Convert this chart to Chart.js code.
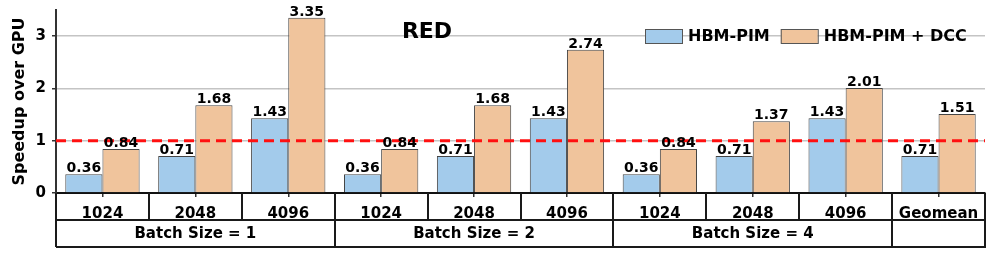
<!DOCTYPE html>
<html>
<head>
<meta charset="utf-8">
<script src="https://cdn.jsdelivr.net/npm/chart.js@4.4.1/dist/chart.umd.min.js"></script>
<style>
  html, body { margin: 0; padding: 0; background: #fff; }
  #wrap { width: 996px; height: 254px; }
</style>
</head>
<body>
<div id="wrap"><canvas id="speedup"></canvas></div>
<script>
const categories = ["1024", "2048", "4096", "1024", "2048", "4096", "1024", "2048", "4096", "Geomean"];
const groups = ["Batch Size = 1", "Batch Size = 2", "Batch Size = 4", ""];
const groupSpan = [3, 3, 3, 1];
const hbmPim = [0.36, 0.71, 1.43, 0.36, 0.71, 1.43, 0.36, 0.71, 1.43, 0.71];
const hbmPimDcc = [0.84, 1.68, 3.35, 0.84, 1.68, 2.74, 0.84, 1.37, 2.01, 1.51];
const seriesNames = ["HBM-PIM", "HBM-PIM + DCC"];
const yTicks = [0, 1, 2, 3];
const yMax = 3.5;
const baseline = 1;
const chartTitle = "RED";

const BLUE = "#a3cbeb";
const ORANGE = "#f0c49c";
const FONT = "'DejaVu Sans', sans-serif";

// red dashed line at speedup = 1, drawn over the bars
const baselinePlugin = {
  id: "baseline",
  afterDatasetsDraw(chart) {
    const { ctx, chartArea } = chart;
    const y = chart.scales.y.getPixelForValue(baseline);
    ctx.save();
    ctx.strokeStyle = "#ff1010";
    ctx.lineWidth = 3;
    ctx.setLineDash([10, 6]);
    ctx.beginPath();
    ctx.moveTo(chartArea.left, y);
    ctx.lineTo(chartArea.right, y);
    ctx.stroke();
    ctx.restore();
  }
};

// value labels on top of each bar
const valueLabels = {
  id: "valueLabels",
  afterDatasetsDraw(chart) {
    const { ctx } = chart;
    ctx.save();
    ctx.font = "bold 14px " + FONT;
    ctx.fillStyle = "#000";
    ctx.textAlign = "center";
    ctx.textBaseline = "alphabetic";
    chart.data.datasets.forEach((ds, i) => {
      chart.getDatasetMeta(i).data.forEach((bar, j) => {
        ctx.fillText(ds.data[j].toFixed(2), bar.x, bar.y - 2);
      });
    });
    ctx.restore();
  }
};

// table under the x axis: sizes in row 1, batch groups in row 2
const tableAxis = {
  id: "tableAxis",
  afterDraw(chart) {
    const { ctx, chartArea } = chart;
    const x = chart.scales.x;
    const n = categories.length;
    const cw = (chartArea.right - chartArea.left) / n;
    const y0 = chartArea.bottom, y1 = y0 + 27, y2 = y1 + 27;
    ctx.save();
    ctx.strokeStyle = "#1a1a1a";
    ctx.lineWidth = 2;
    ctx.beginPath();
    ctx.moveTo(chartArea.left, y1); ctx.lineTo(chartArea.right, y1);
    ctx.moveTo(chartArea.left, y2); ctx.lineTo(chartArea.right + 1, y2);
    ctx.moveTo(chartArea.left, y0); ctx.lineTo(chartArea.left, y2);
    ctx.moveTo(chartArea.right, y0); ctx.lineTo(chartArea.right, y2);
    for (let i = 1; i < n; i++) {
      const bx = Math.round(chartArea.left + i * cw);
      ctx.moveTo(bx, y0); ctx.lineTo(bx, y1);
    }
    let k = 0;
    groupSpan.forEach((s) => {
      k += s;
      if (k < n) {
        const bx = Math.round(chartArea.left + k * cw);
        ctx.moveTo(bx, y1); ctx.lineTo(bx, y2);
      }
    });
    ctx.stroke();

    ctx.fillStyle = "#000";
    ctx.textAlign = "center";
    ctx.textBaseline = "alphabetic";
    ctx.font = "bold 15px " + FONT;
    categories.forEach((c, i) => {
      ctx.fillText(c, x.getPixelForValue(i), y1 - 2);
    });
    k = 0;
    groups.forEach((g, i) => {
      const cx = chartArea.left + (k + groupSpan[i] / 2) * cw;
      k += groupSpan[i];
      if (g) ctx.fillText(g, cx, y2 - 9);
    });
    ctx.restore();
  }
};

// chart title and legend drawn inside the plot
const titleLegend = {
  id: "titleLegend",
  afterDraw(chart) {
    const { ctx } = chart;
    ctx.save();
    ctx.fillStyle = "#000";
    ctx.textBaseline = "middle";
    ctx.textAlign = "center";
    ctx.font = "bold 22px " + FONT;
    ctx.fillText(chartTitle, 427, 32);

    ctx.font = "bold 16px " + FONT;
    ctx.textAlign = "left";
    let lx = 645;
    const colors = [BLUE, ORANGE];
    seriesNames.forEach((name, i) => {
      ctx.fillStyle = colors[i];
      ctx.fillRect(lx, 29, 37, 14);
      ctx.strokeStyle = "#555";
      ctx.lineWidth = 1;
      ctx.strokeRect(lx + 0.5, 29.5, 37, 14);
      ctx.fillStyle = "#000";
      ctx.fillText(name, lx + 43, 37);
      lx += 43 + ctx.measureText(name).width + 11;
    });
    ctx.restore();
  }
};

new Chart(document.getElementById("speedup"), {
  type: "bar",
  data: {
    labels: categories,
    datasets: [
      { label: seriesNames[0], data: hbmPim, backgroundColor: BLUE, borderColor: "#444", borderWidth: 1 },
      { label: seriesNames[1], data: hbmPimDcc, backgroundColor: ORANGE, borderColor: "#444", borderWidth: 1 }
    ]
  },
  options: {
    responsive: true,
    maintainAspectRatio: false,
    animation: false,
    layout: { padding: { top: 10, right: 11, bottom: 7, left: 0 } },
    datasets: { bar: { categoryPercentage: 0.8, barPercentage: 1.0 } },
    plugins: { legend: { display: false }, title: { display: false }, tooltip: { enabled: false } },
    scales: {
      x: {
        ticks: { display: false },
        grid: { display: true, drawOnChartArea: false, offset: false, tickLength: 4, color: "#333", lineWidth: 1.5 },
        border: { display: true, color: "#111", width: 2 },
        afterFit: s => { s.height = 54; s.paddingLeft = 0; s.paddingRight = 0; }
      },
      y: {
        min: 0,
        max: yMax,
        afterBuildTicks: s => { s.ticks = yTicks.map(v => ({ value: v })); },
        afterFit: s => { s.width = 56; s.paddingTop = 0; s.paddingBottom = 0; },
        ticks: { color: "#000", font: { family: FONT, size: 15, weight: "bold" }, padding: 6 },
        grid: {
          tickLength: 4,
          tickColor: "#333",
          lineWidth: 1.5,
          color: c => (c.tick && c.tick.value === 0 ? "rgba(0,0,0,0)" : "#c4c4c4")
        },
        border: { display: true, color: "#333", width: 2 },
        title: {
          display: true,
          text: "Speedup over GPU",
          color: "#000",
          font: { family: FONT, size: 16, weight: "bold" },
          padding: { top: 10, bottom: 0 }
        }
      }
    }
  },
  plugins: [baselinePlugin, valueLabels, tableAxis, titleLegend]
});
</script>
</body>
</html>
